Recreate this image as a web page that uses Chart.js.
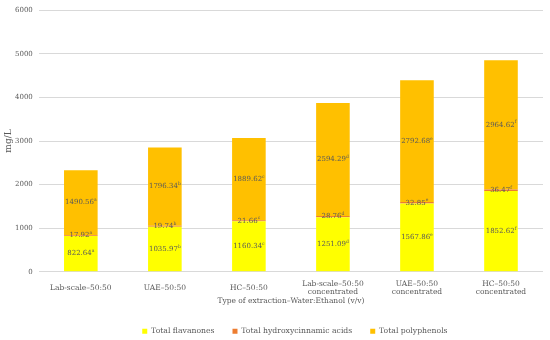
<!DOCTYPE html>
<html>
<head>
<meta charset="utf-8">
<script src="https://cdn.jsdelivr.net/npm/chart.js@4"></script>
<style>
  html, body { margin: 0; padding: 0; background: #fff; }
  #wrap { width: 550px; height: 340px; }
</style>
</head>
<body>
<div id="wrap"><canvas id="myChart"></canvas></div>
<script>
// categories and values
var categories = [
    "Lab-scale\u201350:50",
    "UAE\u201350:50",
    "HC\u201350:50",
    ["Lab-scale\u201350:50", "concentrated"],
    ["UAE\u201350:50", "concentrated"],
    ["HC\u201350:50", "concentrated"]
];
var flavanones = [822.64, 1035.97, 1160.34, 1251.09, 1567.86, 1852.62];
var hydroxycinnamic = [17.92, 19.74, 21.66, 28.76, 32.85, 36.47];
var polyphenols = [1490.56, 1796.34, 1889.62, 2594.29, 2792.68, 2964.62];
var letters = ["a", "b", "c", "d", "e", "f"];
var yTicks = [0, 1000, 2000, 3000, 4000, 5000, 6000];

var FONT = "'DejaVu Serif', serif";
var textGray = "#595959";

// draws value + superscript letter at the middle of each segment
var segmentLabels = {
    id: "segmentLabels",
    afterDatasetsDraw: function(chart) {
        var ctx = chart.ctx;
        ctx.save();
        ctx.textBaseline = "middle";
        chart.data.datasets.forEach(function(ds, i) {
            var meta = chart.getDatasetMeta(i);
            meta.data.forEach(function(bar, j) {
                var txt = ds.data[j].toFixed(2);
                var sup = letters[j];
                ctx.font = "7px " + FONT;
                var w1 = ctx.measureText(txt).width;
                ctx.font = "4.5px " + FONT;
                var w2 = ctx.measureText(sup).width;
                var x = bar.x - (w1 + w2) / 2;
                var y = (bar.y + bar.base) / 2;
                ctx.fillStyle = textGray;
                ctx.textAlign = "left";
                ctx.font = "7px " + FONT;
                ctx.fillText(txt, x, y);
                ctx.font = "4.5px " + FONT;
                ctx.fillText(sup, x + w1, y - 2.5);
            });
        });
        ctx.restore();
    }
};

// legend in the original sits centred under the plot area, not the canvas
var legendShift = {
    id: "legendShift",
    afterLayout: function(chart) {
        var a = chart.chartArea;
        var dx = (a.left + a.right) / 2 - (chart.legend.left + chart.legend.right) / 2 + 4;
        chart.legend.left += dx;
        chart.legend.right += dx;
    }
};

var ctx = document.getElementById("myChart").getContext("2d");
var chart = new Chart(ctx, {
    type: "bar",
    data: {
        labels: categories,
        datasets: [{
            label: "Total flavanones",
            data: flavanones,
            backgroundColor: "#ffff00"
        }, {
            label: "Total hydroxycinnamic acids",
            data: hydroxycinnamic,
            backgroundColor: "#ed7d31"
        }, {
            label: "Total polyphenols",
            data: polyphenols,
            backgroundColor: "#ffc000"
        }]
    },
    options: {
        responsive: true,
        maintainAspectRatio: false,
        animation: false,
        barPercentage: 0.4,
        categoryPercentage: 1.0,
        layout: { padding: { top: -10, right: 7, left: 4, bottom: -5 } },
        scales: {
            x: {
                stacked: true,
                grid: { display: false },
                border: { display: false },
                ticks: {
                    color: textGray,
                    // single-line labels get a double line height so they sit centred
                    font: function(c) {
                        var two = Array.isArray(categories[c.index]);
                        return { family: FONT, size: 7.5, lineHeight: two ? 1.1 : 2.2 };
                    },
                    maxRotation: 0,
                    padding: 0
                },
                title: {
                    display: true,
                    text: "Type of extraction\u2013Water:Ethanol (v/v)",
                    color: textGray,
                    font: { family: FONT, size: 7.5 },
                    padding: { top: 0, bottom: 4 }
                }
            },
            y: {
                stacked: true,
                min: 0,
                max: 6000,
                afterBuildTicks: function(axis) {
                    axis.ticks = yTicks.map(function(v) { return { value: v }; });
                },
                grid: { color: "#d9d9d9", drawTicks: false },
                border: { display: false },
                ticks: {
                    color: textGray,
                    font: { family: FONT, size: 7 },
                    padding: 6,
                    callback: function(v) { return String(v); }
                },
                title: {
                    display: true,
                    text: "mg/L",
                    color: textGray,
                    font: { family: FONT, size: 9, lineHeight: 1 },
                    padding: { top: 0, bottom: -4 }
                }
            }
        },
        plugins: {
            legend: {
                position: "bottom",
                labels: {
                    boxWidth: 5,
                    boxHeight: 5,
                    color: textGray,
                    font: { family: FONT, size: 7.7 },
                    padding: 18
                }
            },
            tooltip: { enabled: false }
        }
    },
    plugins: [segmentLabels, legendShift]
});
</script>
</body>
</html>
